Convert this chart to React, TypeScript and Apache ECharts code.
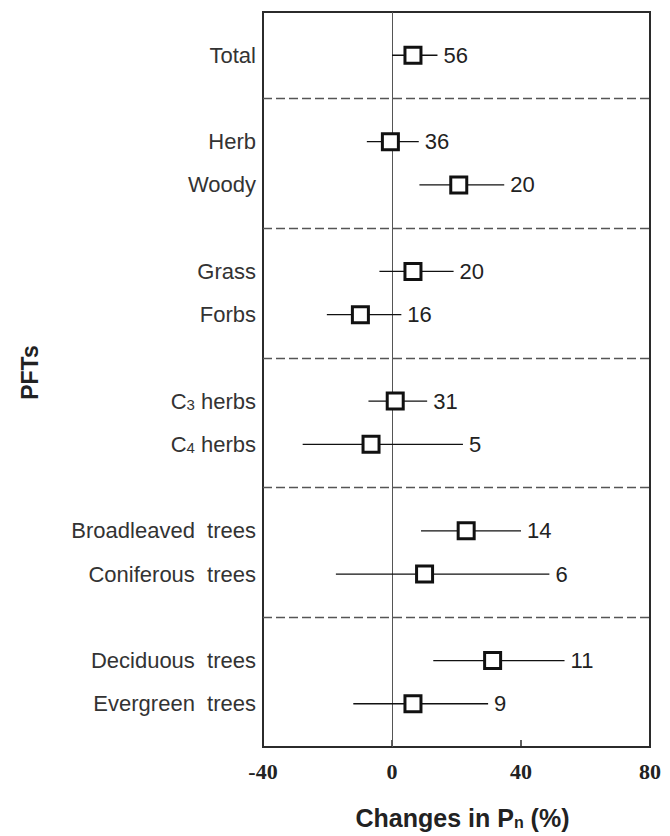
import React, { useEffect, useRef } from "react";
import * as echarts from "echarts";

// ---- data ----
const groups: string[][] = [
  ["Total"],
  ["Herb", "Woody"],
  ["Grass", "Forbs"],
  ["C{sub|3} herbs", "C{sub|4} herbs"],
  ["Broadleaved  trees", "Coniferous  trees"],
  ["Deciduous  trees", "Evergreen  trees"],
];
const means = [6.5, -0.5, 20.7, 6.5, -9.8, 1.0, -6.5, 23.0, 10.1, 31.2, 6.5];
const lows = [0, -7.8, 8.5, -3.9, -20.2, -7.3, -27.7, 9.0, -17.4, 12.8, -12.0];
const highs = [14.1, 8.3, 34.8, 19.1, 2.9, 10.9, 22.0, 40.0, 48.8, 53.5, 29.8];
const counts = [56, 36, 20, 20, 16, 31, 5, 14, 6, 11, 9];
const xTicks = [-40, 0, 40, 80];

const SANS = "'Liberation Sans', Arial, sans-serif";
const SERIF = "'Liberation Serif', 'Times New Roman', serif";

export default function App() {
  const ref = useRef<HTMLDivElement>(null);
  useEffect(() => {
    document.body.style.margin = "0";
    if (!ref.current) return;
    const chart = echarts.init(ref.current, undefined, { renderer: "svg" });

    // slot positions: each row 1 slot, separator 1 slot between groups
    const labelAt: Record<number, string> = {};
    const rowPos: number[] = [];
    const separators: number[] = [];
    let p = 1;
    groups.forEach((g, gi) => {
      g.forEach((name) => {
        labelAt[p] = name;
        rowPos.push(p);
        p += 1;
      });
      if (gi < groups.length - 1) {
        separators.push(p);
        p += 1;
      }
    });
    const maxPos = p; // bottom edge

    const barData = rowPos.map((pos, i) => [pos, lows[i], highs[i], counts[i]]);
    const pointData = rowPos.map((pos, i) => [means[i], pos]);

    chart.setOption({
      animation: false,
      grid: {
        left: 263,
        right: 20,
        top: 12,
        bottom: 89,
        show: true,
        borderColor: "#2b2b2b",
        borderWidth: 2,
        backgroundColor: "transparent",
      },
      xAxis: {
        type: "value",
        min: xTicks[0],
        max: xTicks[xTicks.length - 1],
        interval: 40,
        axisLine: { show: true, onZero: false, lineStyle: { color: "#2b2b2b", width: 2 } },
        axisTick: { show: true, inside: true, length: 7, lineStyle: { color: "#2b2b2b", width: 1.5 } },
        splitLine: { show: false },
        axisLabel: {
          fontFamily: SERIF,
          fontWeight: "bold",
          fontSize: 22,
          color: "#222",
          margin: 13,
        },
        name: "Changes in P{sub|n} (%)",
        nameLocation: "middle",
        nameGap: 58,
        nameTextStyle: {
          fontFamily: SANS,
          fontWeight: "bold",
          fontSize: 25,
          color: "#222",
          padding: [0, 0, 0, 12],
          rich: {
            sub: {
              fontFamily: SANS,
              fontWeight: "bold",
              fontSize: 16,
              color: "#222",
              verticalAlign: "bottom",
              lineHeight: 12,
            },
          },
        },
      },
      yAxis: {
        type: "value",
        inverse: true,
        min: 0,
        max: maxPos,
        interval: 1,
        axisLine: { show: false },
        axisTick: { show: false },
        splitLine: { show: false },
        axisLabel: {
          fontFamily: SANS,
          fontSize: 22,
          color: "#333",
          margin: 7,
          formatter: (v: number) => labelAt[v] || "",
          rich: {
            sub: {
              fontFamily: SANS,
              fontSize: 15,
              color: "#333",
              verticalAlign: "bottom",
              lineHeight: 12,
            },
          },
        },
        name: "PFTs",
        nameLocation: "middle",
        nameRotate: 90,
        nameGap: 222,
        nameTextStyle: {
          fontFamily: SANS,
          fontWeight: "bold",
          fontSize: 23,
          color: "#222",
          padding: [0, 0, 0, 14],
        },
      },
      series: [
        {
          type: "custom",
          data: barData,
          encode: { x: [1, 2], y: 0 },
          z: 3,
          renderItem: (params: any, api: any) => {
            const a = api.coord([api.value(1), api.value(0)]);
            const b = api.coord([api.value(2), api.value(0)]);
            return {
              type: "group",
              children: [
                {
                  type: "line",
                  shape: { x1: a[0], y1: a[1], x2: b[0], y2: b[1] },
                  style: { stroke: "#111", lineWidth: 1.3 },
                },
                {
                  type: "text",
                  x: b[0] + 6,
                  y: b[1],
                  style: {
                    text: String(api.value(3)),
                    fontFamily: SANS,
                    fontSize: 22,
                    fill: "#222",
                    align: "left",
                    verticalAlign: "middle",
                  },
                },
              ],
            };
          },
        },
        {
          type: "scatter",
          data: pointData,
          symbol: "rect",
          symbolSize: 16,
          z: 5,
          itemStyle: { color: "#fff", borderColor: "#111", borderWidth: 3, opacity: 1 },
          markLine: {
            silent: true,
            symbol: "none",
            label: { show: false },
            z: 1,
            data: [
              ...separators.map((s) => ({
                yAxis: s,
                lineStyle: { color: "#555", width: 1.3, type: [9, 4] },
              })),
              { xAxis: 0, lineStyle: { color: "#555", width: 1, type: "solid" } },
            ],
          },
        },
      ],
    });
    return () => chart.dispose();
  }, []);
  return <div ref={ref} style={{ width: 670, height: 836 }} />;
}
